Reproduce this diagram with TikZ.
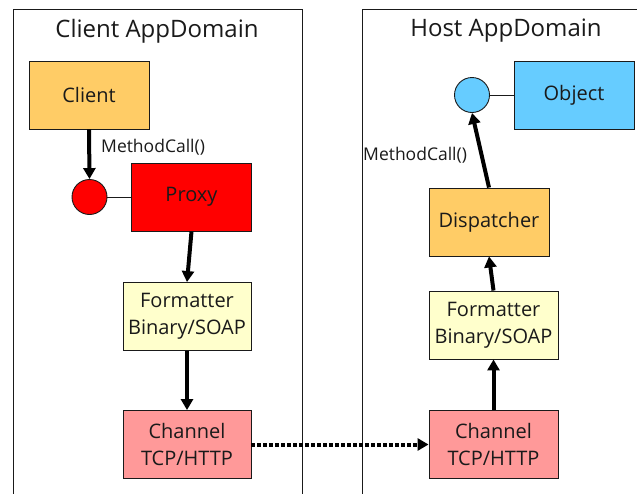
\documentclass[tikz,border=0pt]{standalone}
\usepackage{fontspec}
\setmainfont{Open Sans}
\usetikzlibrary{arrows.meta}
\definecolor{clientc}{HTML}{FFCC66}
\definecolor{proxyc}{HTML}{FF0000}
\definecolor{fmtc}{HTML}{FFFFCC}
\definecolor{chanc}{HTML}{FF9999}
\definecolor{objc}{HTML}{66CCFF}
\definecolor{ink}{HTML}{1A1A1A}
\tikzset{
  box/.style={draw=ink, line width=0.9pt, minimum width=#1, minimum height=68pt,
    inner sep=0pt, align=center, font=\fontsize{20}{27}\selectfont, text=ink},
  box/.default=120pt,
  port/.style={circle, draw=ink, line width=0.9pt, minimum size=35pt, inner sep=0pt},
  flow/.style={line width=4pt, -{Triangle[length=11pt,width=12pt]}},
  wire/.style={line width=4pt, dash pattern=on 3.5pt off 2.5pt,
    -{Triangle[length=11pt,width=12pt]}},
  link/.style={line width=0.9pt, ink},
  frame/.style={line width=0.9pt, ink},
  lbl/.style={font=\fontsize{17.5}{20}\selectfont, text=ink, inner sep=0pt},
  title/.style={font=\fontsize{24}{28}\selectfont, text=ink, inner sep=0pt}
}
\begin{document}
\begin{tikzpicture}[x=1pt,y=-1pt]
\useasboundingbox (0,0) rectangle (637,493);
\fill[white] (0,0) rectangle (637,493);

% AppDomain frames
\draw[frame] (13,500) -- (13,9.5) -- (302,9.5) -- (302,500);
\draw[frame] (362,500) -- (362,9.5) -- (645,9.5);
\node[title] (ctitle) at (157,31) {Client AppDomain};
\node[title] (htitle) at (506,31) {Host AppDomain};

% Client side
\node[box, fill=clientc] (client) at (89,95) {Client};
\node[port, fill=proxyc] (cport) at (89.5,197) {};
\node[box, fill=proxyc] (proxy) at (191.5,197) {Proxy};
\node[box=128pt, fill=fmtc] (cfmt) at (187,316.5) {Formatter\\Binary/SOAP};
\node[box=128pt, fill=chanc] (cchan) at (187,444.5) {Channel\\TCP/HTTP};

% Host side
\node[port, fill=objc] (hport) at (472,95) {};
\node[box, fill=objc] (object) at (574,95) {Object};
\node[box, fill=clientc] (disp) at (489,222) {Dispatcher};
\node[box=129pt, fill=fmtc] (hfmt) at (493.5,325) {Formatter\\Binary/SOAP};
\node[box=129pt, fill=chanc] (hchan) at (493.5,444.5) {Channel\\TCP/HTTP};

% Labels
\node[lbl, anchor=west] (clbl) at (101,147) {MethodCall()};
\node[lbl, anchor=west] (hlbl) at (363,155) {MethodCall()};

% Connectors
\draw[link] (cport) -- (proxy);
\draw[link] (hport) -- (object);
\draw[flow] (client.south) -- (cport.north);
\draw[flow] (proxy.south) -- (cfmt.north);
\draw[flow] (cfmt) -- (cchan);
\draw[wire] (cchan.east) -- (hchan.west);
\draw[flow] (hchan) -- (hfmt);
\draw[flow] (hfmt.north) -- (disp.south);
\draw[flow] (disp.north) -- (hport.south);
\end{tikzpicture}
\end{document}
